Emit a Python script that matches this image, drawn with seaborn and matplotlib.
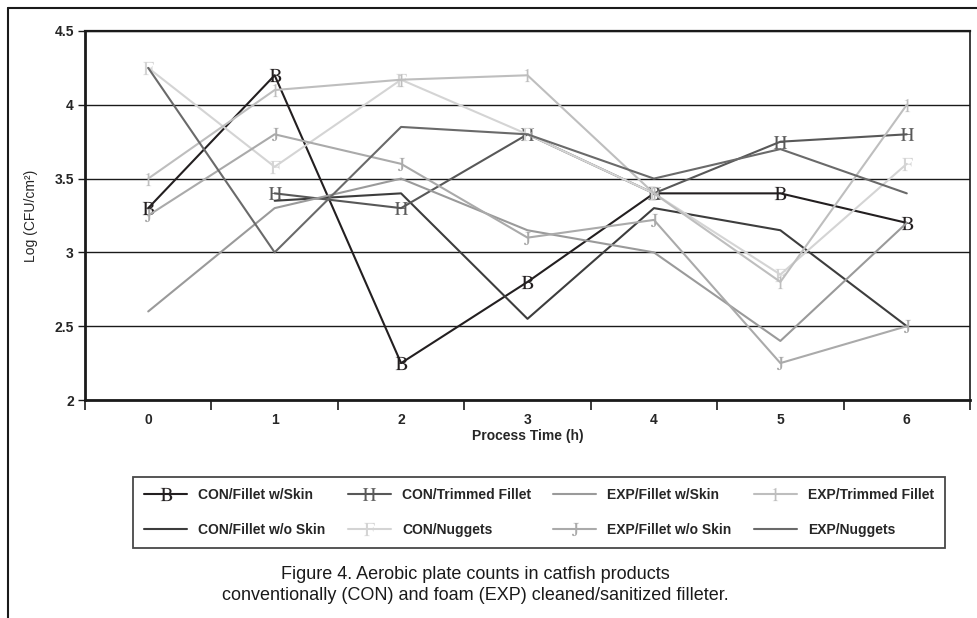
import numpy as np
import pandas as pd
import matplotlib
matplotlib.use("Agg")
import matplotlib.pyplot as plt
from matplotlib.lines import Line2D
import seaborn as sns

# Process time (h)
hours = [0, 1, 2, 3, 4, 5, 6]
y_ticks = [2, 2.5, 3, 3.5, 4, 4.5]

# Log (CFU/cm2) per product and cleaning treatment
con_fillet_skin = [3.3, 4.2, 2.25, 2.8, 3.4, 3.4, 3.2]
con_trimmed = [np.nan, 3.4, 3.3, 3.8, 3.4, 3.75, 3.8]
con_fillet_noskin = [np.nan, 3.35, 3.4, 2.55, 3.3, 3.15, 2.5]
con_nuggets = [4.25, 3.58, 4.17, 3.8, 3.4, 2.85, 3.6]
exp_fillet_skin = [2.6, 3.3, 3.5, 3.15, 3.0, 2.4, 3.2]
exp_trimmed = [3.5, 4.1, 4.17, 4.2, 3.4, 2.8, 4.0]
exp_fillet_noskin = [3.25, 3.8, 3.6, 3.1, 3.22, 2.25, 2.5]
exp_nuggets = [4.25, 3.0, 3.85, 3.8, 3.5, 3.7, 3.4]

series_names = ["CON/Fillet w/Skin", "CON/Fillet w/o Skin",
                "CON/Trimmed Fillet", "CON/Nuggets",
                "EXP/Fillet w/Skin", "EXP/Fillet w/o Skin",
                "EXP/Trimmed Fillet", "EXP/Nuggets"]
series_values = [con_fillet_skin, con_fillet_noskin, con_trimmed, con_nuggets,
                 exp_fillet_skin, exp_fillet_noskin, exp_trimmed, exp_nuggets]
series_colors = ["#231f20", "#3d3d3d", "#585858", "#d4d4d4",
                 "#9a9a9a", "#aaaaaa", "#bebebe", "#6a6a6a"]
series_markers = [r"$\mathrm{B}$", None, r"$\mathrm{H}$", r"$\mathrm{F}$",
                  None, r"$\mathrm{J}$", r"$\mathrm{1}$", None]

sns.set_style("white")
plt.rcParams["font.family"] = ["Liberation Sans", "DejaVu Sans"]
plt.rcParams["mathtext.fontset"] = "stix"

fig = plt.figure(figsize=(9.78, 6.18), dpi=100)
ax = fig.add_axes([85 / 978, 1 - 400 / 618, 885 / 978, 369 / 618])

for name, vals, col, mk in zip(series_names, series_values, series_colors, series_markers):
    df = pd.DataFrame({"Process Time (h)": hours, "value": vals}).dropna()
    kw = {}
    if mk is not None:
        kw = dict(marker=mk, markersize=9.5, markerfacecolor=col,
                  markeredgecolor=col, markeredgewidth=0)
    sns.lineplot(data=df, x="Process Time (h)", y="value", ax=ax, color=col,
                 linewidth=1.5, label=name, estimator=None, sort=False, **kw)

ax.set_xlim(-0.5, 6.5)
ax.set_ylim(2, 4.5)
ax.set_yticks(y_ticks)
ax.set_yticklabels([f"{t:g}" for t in y_ticks], fontweight="bold", fontsize=10)
ax.yaxis.grid(True, color="#1a1a1a", linewidth=1.0)
ax.xaxis.grid(False)

# category boundaries carry the tick marks, centres carry the labels
ax.set_xticks(np.arange(-0.5, 7.0, 1.0))
ax.set_xticklabels([""] * 8)
ax.set_xticks(hours, minor=True)
ax.set_xticklabels([str(h) for h in hours], minor=True, fontweight="bold", fontsize=10)
ax.tick_params(axis="x", which="major", direction="out", length=7, width=1.2,
               color="#1a1a1a", bottom=True)
ax.tick_params(axis="x", which="minor", length=0, pad=9)
ax.tick_params(axis="y", direction="out", length=5, width=1.0, color="#1a1a1a",
               left=True, pad=3)

for side, lw in [("left", 2.0), ("bottom", 2.0), ("top", 1.6), ("right", 1.2)]:
    ax.spines[side].set_visible(True)
    ax.spines[side].set_color("#1a1a1a")
    ax.spines[side].set_linewidth(lw)

ax.set_xlabel("Process Time (h)", fontweight="bold", fontsize=10, labelpad=2)
ax.set_ylabel("Log (CFU/cm²)", fontsize=10, labelpad=12)

handles, labels = ax.get_legend_handles_labels()
ax.get_legend().remove()
leg = fig.legend(handles, labels, ncol=4, loc="upper left",
                 bbox_to_anchor=(133 / 978, 1 - 477 / 618),
                 frameon=True, fancybox=False, shadow=False,
                 prop={"weight": "bold", "size": 10}, handlelength=3.1,
                 handletextpad=0.8, borderaxespad=0, labelspacing=1.5,
                 borderpad=0.8, columnspacing=1.6)
leg.get_frame().set_edgecolor("#1a1a1a")
leg.get_frame().set_linewidth(1.3)

fig.text(475 / 978, 1 - 585 / 618,
         "Figure 4. Aerobic plate counts in catfish products\n"
         "conventionally (CON) and foam (EXP) cleaned/sanitized filleter.",
         ha="center", va="center", fontsize=13, linespacing=1.3, color="#1a1a1a")

# outer frame of the figure panel
fig.add_artist(Line2D([8 / 978, 8 / 978], [0, 1 - 8 / 618], transform=fig.transFigure,
                      color="#1a1a1a", linewidth=1.5))
fig.add_artist(Line2D([8 / 978, 1], [1 - 8 / 618, 1 - 8 / 618], transform=fig.transFigure,
                      color="#1a1a1a", linewidth=1.5))

fig.savefig("out.png", dpi=100)
